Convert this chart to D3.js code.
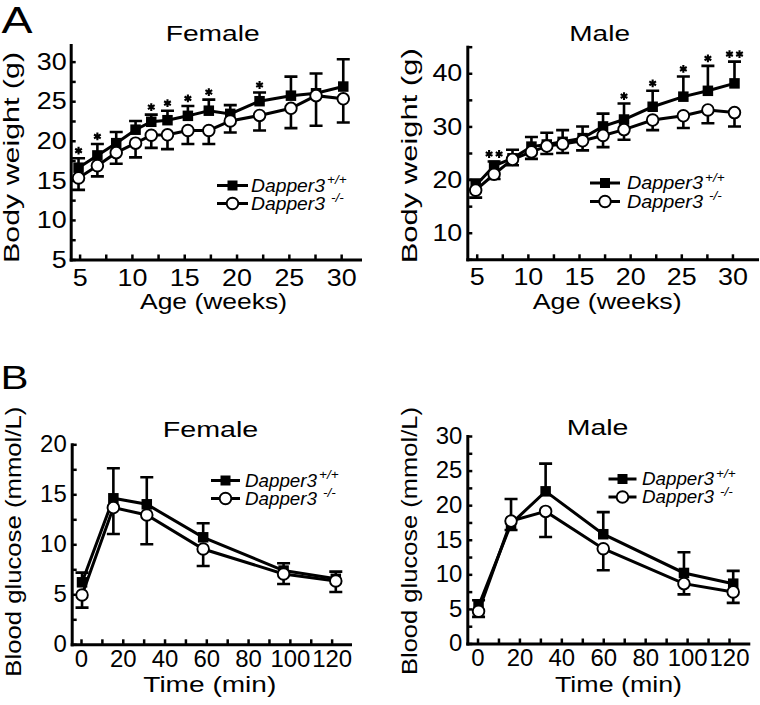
<!DOCTYPE html>
<html><head><meta charset="utf-8">
<script src="https://cdn.jsdelivr.net/npm/d3@7"></script>
<style>
body{margin:0;background:#fff}
svg{display:block}
text{font-family:"Liberation Sans",Arial,Helvetica,sans-serif;fill:#000}
</style>
</head><body>
<svg id="c" width="760" height="705"></svg>
<script>
// ---------------- DATA ----------------
const ageWeeks = [4.9, 6.7, 8.5, 10.35, 11.85, 13.4, 15.35, 17.35, 19.4, 22.2, 25.2, 27.6, 30.2];
const femaleWeightWT      = [16.6, 18.15, 19.7, 21.4, 22.4, 22.6, 23.15, 23.8, 23.4, 25.0, 25.7, 26.0, 26.85];
const femaleWeightWTUpper = [17.8, 19.6, 21.1, 22.5, 23.3, 23.8, 24.4, 25.2, 24.5, 26.1, 28.1, 28.5, 30.3];
const femaleWeightKO      = [15.3, 16.85, 18.5, 19.7, 20.7, 20.75, 21.3, 21.3, 22.5, 23.2, 24.1, 25.7, 25.3];
const femaleWeightKOLower = [13.8, 15.5, 17.1, 17.9, 19.1, 18.95, 19.6, 19.6, 21.05, 21.3, 21.6, 21.9, 22.3];
const femaleWeightStars   = [1, 1, 0, 0, 1, 1, 1, 1, 0, 1, 0, 0, 0];

const maleWeightWT      = [18.9, 22.6, 24.0, 26.2, 26.6, 27.1, 27.8, 30.0, 31.3, 33.7, 35.6, 36.7, 38.1];
const maleWeightWTUpper = [20.0, 23.4, 25.6, 28.0, 28.8, 29.3, 30.0, 32.4, 34.3, 36.7, 39.4, 41.4, 42.2];
const maleWeightKO      = [18.0, 21.0, 23.8, 25.2, 26.3, 26.7, 27.3, 28.3, 29.4, 31.2, 32.0, 33.1, 32.6];
const maleWeightKOLower = [16.6, 20.1, 22.7, 23.9, 24.8, 25.0, 25.5, 26.1, 27.5, 29.3, 29.7, 30.6, 30.0];
const maleWeightStars   = [0, 2, 0, 0, 0, 0, 0, 0, 1, 1, 1, 1, 2];

const glucoseTimeFemale = [0.5, 15.5, 31.5, 58.5, 97, 122];
const femaleGlucoseWT      = [6.2, 14.6, 14.0, 10.7, 7.37, 6.55];
const femaleGlucoseWTUpper = [7.17, 17.6, 16.7, 12.1, 8.1, 7.27];
const femaleGlucoseKO      = [4.93, 13.67, 12.93, 9.53, 7.03, 6.33];
const femaleGlucoseKOLower = [3.67, 11.03, 10.0, 7.83, 6.03, 5.23];

const glucoseTimeMale = [0.5, 16, 32.5, 60, 98.5, 122];
const maleGlucoseWT      = [5.4, 17.3, 22.0, 15.8, 10.2, 8.65];
const maleGlucoseWTUpper = [6.25, 20.9, 26.0, 19.0, 13.2, 10.5];
const maleGlucoseKO      = [4.66, 17.7, 19.1, 13.7, 8.65, 7.45];
const maleGlucoseKOLower = [3.85, 16.4, 15.4, 10.6, 7.1, 5.87];

const ageTickLabels = [5, 10, 15, 20, 25, 30];
const femaleWeightTickLabels = [5, 10, 15, 20, 25, 30];
const maleWeightTickLabels = [10, 20, 30, 40];
const timeTickLabels = [0, 20, 40, 60, 80, 100, 120];
const femaleGlucoseTickLabels = [0, 5, 10, 15, 20];
const maleGlucoseTickLabels = [0, 5, 10, 15, 20, 25, 30];

const legendWT = "Dapper3";
const legendWTSup = "+/+";
const legendKOSup = "-/-";

// ---------------- DRAW ----------------
const svg = d3.select("#c");
const FONT = '"Liberation Sans",Arial,Helvetica,sans-serif';

function stretch(sel, factor) {
  sel.each(function () {
    const L = this.getComputedTextLength();
    if (L > 0) d3.select(this).attr("textLength", L * factor).attr("lengthAdjust", "spacingAndGlyphs");
  });
}

const starPath = d3.symbol(d3.symbolAsterisk, 42)();

function drawPanel(p) {
  const g = svg.append("g");
  const x = d3.scaleLinear().domain(p.xDomain).range([p.left, p.right]);
  const y = d3.scaleLinear().domain(p.yDomain).range([p.bottom, p.top]);

  // axes
  const yTickVals = d3.range(p.yDomain[0], p.yDomain[1] + 1e-6, p.yMinor);
  const xTickVals = d3.range(p.xTickStart, p.xDomain[1] + 1e-6, p.xMinor);
  const yAx = d3.axisLeft(y).tickValues(yTickVals).tickSize(-5).tickSizeOuter(0)
    .tickPadding(p.yPad).tickFormat(d => p.yLabels.some(v => Math.abs(v - d) < 1e-6) ? d : "");
  const xAx = d3.axisBottom(x).tickValues(xTickVals).tickSize(-5).tickSizeOuter(0)
    .tickPadding(p.xPad).tickFormat(d => p.xLabels.some(v => Math.abs(v - d) < 1e-6) ? d : "");
  const gy = g.append("g").attr("transform", `translate(${p.left},0)`).call(yAx);
  const gx = g.append("g").attr("transform", `translate(0,${p.bottom})`).call(xAx);
  [gy, gx].forEach(a => {
    a.attr("font-family", FONT).attr("font-size", p.tickFont);
    a.select(".domain").attr("stroke", "#000").attr("stroke-width", 3).attr("stroke-linecap", "square");
    a.selectAll(".tick line").attr("stroke", "#000").attr("stroke-width", 2.5);
    a.selectAll(".tick text").attr("fill", "#000");
    stretch(a.selectAll(".tick text"), p.tickStretch);
  });

  // series
  const wt = p.t.map((t, i) => ({t, m: p.wt[i], e: p.wtE[i], s: p.stars ? p.stars[i] : 0}));
  const ko = p.t.map((t, i) => ({t, m: p.ko[i], e: p.koE[i]}));
  const line = d3.line().x(d => x(d.t)).y(d => y(d.m));
  const cap = 6.5;

  g.append("path").datum(wt).attr("d", line).attr("fill", "none").attr("stroke", "#000").attr("stroke-width", 3);
  g.append("path").datum(ko).attr("d", line).attr("fill", "none").attr("stroke", "#000").attr("stroke-width", 3);

  const eb = d => `M${x(d.t)},${y(d.m)}V${y(d.e)}M${x(d.t) - cap},${y(d.e)}H${x(d.t) + cap}`;
  g.selectAll(null).data(wt).enter().append("path").attr("d", eb).attr("stroke", "#000").attr("stroke-width", 2.6).attr("fill", "none");
  g.selectAll(null).data(ko).enter().append("path").attr("d", eb).attr("stroke", "#000").attr("stroke-width", 2.6).attr("fill", "none");

  const sq = 10.5;
  g.selectAll(null).data(wt).enter().append("rect")
    .attr("x", d => x(d.t) - sq / 2).attr("y", d => y(d.m) - sq / 2)
    .attr("width", sq).attr("height", sq).attr("fill", "#000");
  g.selectAll(null).data(ko).enter().append("circle")
    .attr("cx", d => x(d.t)).attr("cy", d => y(d.m)).attr("r", 5.8)
    .attr("fill", "#fff").attr("stroke", "#000").attr("stroke-width", 1.9);

  // significance stars (asterisk symbols)
  const starPts = [];
  wt.forEach(d => {
    if (d.s === 1) starPts.push({x: x(d.t), y: y(d.e) - 7.5});
    if (d.s === 2) { starPts.push({x: x(d.t) - 5, y: y(d.e) - 7.5}); starPts.push({x: x(d.t) + 5, y: y(d.e) - 7.5}); }
  });
  g.selectAll(null).data(starPts).enter().append("path")
    .attr("d", starPath).attr("transform", d => `translate(${d.x},${d.y})`)
    .attr("fill", "none").attr("stroke", "#000").attr("stroke-width", 2.1);

  // titles
  const tt = g.append("text").attr("x", p.title.x).attr("y", p.title.y).attr("font-size", 22).text(p.title.text);
  tt.attr("textLength", p.title.len).attr("lengthAdjust", "spacingAndGlyphs");
  const xt = g.append("text").attr("x", p.xTitle.x).attr("y", p.xTitle.y).attr("font-size", p.xTitle.fs).text(p.xTitle.text);
  xt.attr("textLength", p.xTitle.len).attr("lengthAdjust", "spacingAndGlyphs");
  const yt = g.append("text").attr("transform", `translate(${p.yTitle.x},${p.yTitle.y}) rotate(-90)`)
    .attr("text-anchor", "middle").attr("font-size", p.yTitle.fs).text(p.yTitle.text);
  yt.attr("textLength", p.yTitle.len).attr("lengthAdjust", "spacingAndGlyphs");

  // legend
  const L = p.legend;
  const lg = g.append("g");
  [[L.y1, true], [L.y2, false]].forEach(([ly, isWT]) => {
    lg.append("line").attr("x1", L.x0).attr("x2", L.x1).attr("y1", ly).attr("y2", ly).attr("stroke", "#000").attr("stroke-width", 3);
    const cx = (L.x0 + L.x1) / 2;
    if (isWT) lg.append("rect").attr("x", cx - 5).attr("y", ly - 5).attr("width", 10).attr("height", 10).attr("fill", "#000");
    else lg.append("circle").attr("cx", cx).attr("cy", ly).attr("r", 5.8).attr("fill", "#fff").attr("stroke", "#000").attr("stroke-width", 1.9);
    const t = lg.append("text").attr("x", L.tx).attr("y", ly + 6.3).attr("font-size", 17.5).attr("font-style", "italic").text(legendWT);
    t.attr("textLength", L.tlen).attr("lengthAdjust", "spacingAndGlyphs");
    lg.append("text").attr("x", L.tx + L.tlen + (isWT ? 2 : 6)).attr("y", ly - 1.5)
      .attr("font-size", 13.5).attr("font-style", "italic").text(isWT ? legendWTSup : legendKOSup);
  });
}

// panel letters
svg.append("text").attr("x", 1.5).attr("y", 33.3).attr("font-size", 36).text("A")
  .attr("textLength", 31).attr("lengthAdjust", "spacingAndGlyphs");
svg.append("text").attr("x", 0.5).attr("y", 389).attr("font-size", 34).text("B")
  .attr("textLength", 28).attr("lengthAdjust", "spacingAndGlyphs");

drawPanel({
  left: 70.7, right: 360, top: 45, bottom: 259.5,
  xDomain: [4.15, 31.8], yDomain: [5, 32.1], xTickStart: 5, xMinor: 2.5, yMinor: 2.5,
  xLabels: ageTickLabels, yLabels: femaleWeightTickLabels, xPad: 9, yPad: 4, tickFont: 24, tickStretch: 1.12,
  t: ageWeeks, wt: femaleWeightWT, wtE: femaleWeightWTUpper, ko: femaleWeightKO, koE: femaleWeightKOLower, stars: femaleWeightStars,
  title: {text: "Female", x: 165.7, y: 40.7, len: 94},
  xTitle: {text: "Age (weeks)", x: 140, y: 309, len: 147, fs: 22},
  yTitle: {text: "Body weight (g)", x: 19, y: 157.5, len: 211, fs: 22},
  legend: {x0: 217, x1: 248, y1: 185.5, y2: 203.5, tx: 251, tlen: 74}
});
drawPanel({
  left: 467.3, right: 757, top: 46.7, bottom: 259.3,
  xDomain: [4.08, 32.4], yDomain: [5, 45], xTickStart: 5, xMinor: 2.5, yMinor: 5,
  xLabels: ageTickLabels, yLabels: maleWeightTickLabels, xPad: 9, yPad: 5, tickFont: 24, tickStretch: 1.12,
  t: ageWeeks, wt: maleWeightWT, wtE: maleWeightWTUpper, ko: maleWeightKO, koE: maleWeightKOLower, stars: maleWeightStars,
  title: {text: "Male", x: 569.3, y: 40.7, len: 60.7},
  xTitle: {text: "Age (weeks)", x: 532.7, y: 309, len: 149, fs: 22},
  yTitle: {text: "Body weight (g)", x: 417, y: 155.8, len: 215, fs: 22},
  legend: {x0: 590, x1: 620, y1: 183, y2: 201.5, tx: 627, tlen: 76}
});
drawPanel({
  left: 71.7, right: 350, top: 444.3, bottom: 644.3,
  xDomain: [-4.45, 128.8], yDomain: [0, 20], xTickStart: 0, xMinor: 10, yMinor: 2.5,
  xLabels: timeTickLabels, yLabels: femaleGlucoseTickLabels, xPad: 6, yPad: 5, tickFont: 23, tickStretch: 1.04,
  t: glucoseTimeFemale, wt: femaleGlucoseWT, wtE: femaleGlucoseWTUpper, ko: femaleGlucoseKO, koE: femaleGlucoseKOLower, stars: null,
  title: {text: "Female", x: 162.7, y: 437.3, len: 95.6},
  xTitle: {text: "Time (min)", x: 143.3, y: 692, len: 133, fs: 22},
  yTitle: {text: "Blood glucose (mmol/L)", x: 20.5, y: 541.7, len: 270, fs: 22},
  legend: {x0: 211, x1: 240, y1: 480.5, y2: 498.5, tx: 245, tlen: 72}
});
drawPanel({
  left: 467.3, right: 748.3, top: 436, bottom: 643.5,
  xDomain: [-4.87, 129.2], yDomain: [0, 30], xTickStart: 0, xMinor: 10, yMinor: 2.5,
  xLabels: timeTickLabels, yLabels: maleGlucoseTickLabels, xPad: 6, yPad: 5, tickFont: 23, tickStretch: 1.04,
  t: glucoseTimeMale, wt: maleGlucoseWT, wtE: maleGlucoseWTUpper, ko: maleGlucoseKO, koE: maleGlucoseKOLower, stars: null,
  title: {text: "Male", x: 566.7, y: 435, len: 61.7},
  xTitle: {text: "Time (min)", x: 555, y: 692, len: 127, fs: 22},
  yTitle: {text: "Blood glucose (mmol/L)", x: 417, y: 541, len: 268, fs: 22},
  legend: {x0: 608.5, x1: 636.5, y1: 479, y2: 497, tx: 642, tlen: 72}
});
</script>
</body></html>
